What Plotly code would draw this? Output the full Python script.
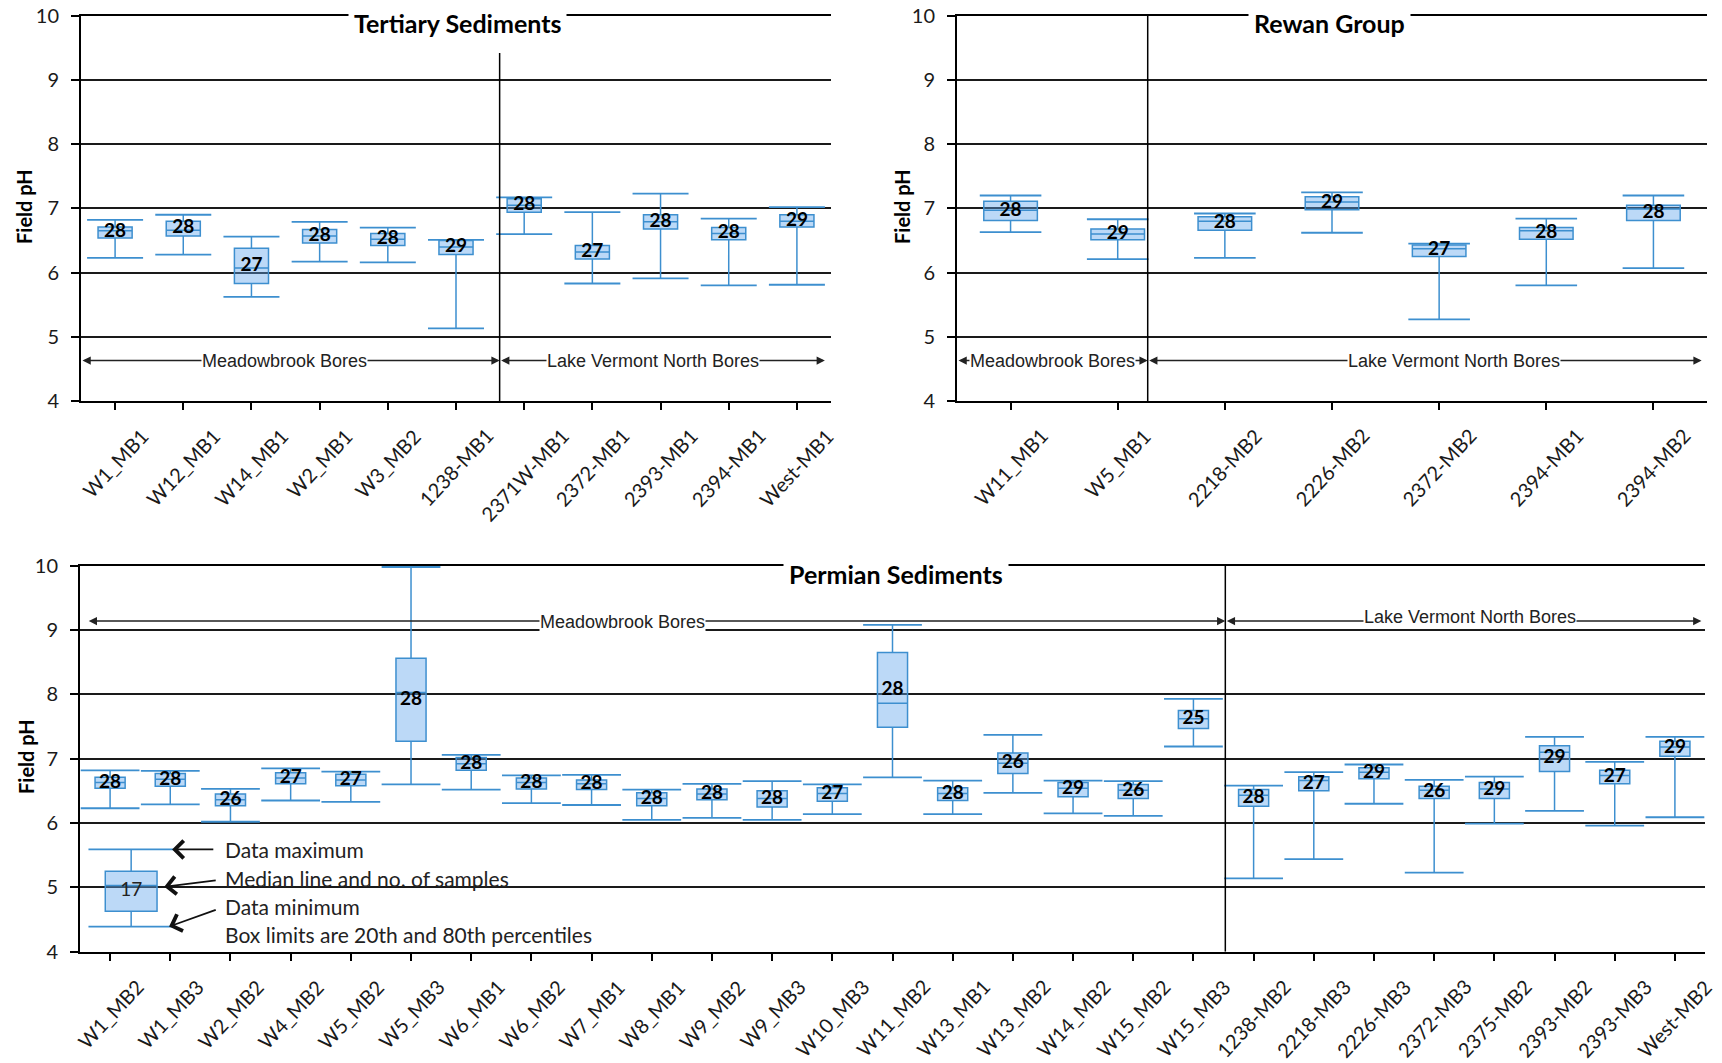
import plotly.graph_objects as go

# ---------------- data ----------------
tert_names = ["W1_MB1", "W12_MB1", "W14_MB1", "W2_MB1", "W3_MB2", "1238-MB1",
              "2371W-MB1", "2372-MB1", "2393-MB1", "2394-MB1", "West-MB1"]
tert_min = [6.23, 6.28, 5.62, 6.17, 6.16, 5.13, 6.60, 5.83, 5.91, 5.80, 5.81]
tert_q1 = [6.54, 6.57, 5.83, 6.46, 6.42, 6.28, 6.94, 6.21, 6.68, 6.51, 6.71]
tert_med = [6.65, 6.66, 6.07, 6.57, 6.52, 6.40, 7.05, 6.32, 6.79, 6.61, 6.80]
tert_q3 = [6.71, 6.80, 6.38, 6.67, 6.61, 6.50, 7.15, 6.42, 6.90, 6.70, 6.90]
tert_max = [6.82, 6.90, 6.56, 6.79, 6.70, 6.51, 7.17, 6.94, 7.23, 6.84, 7.02]
tert_n = [28, 28, 27, 28, 28, 29, 28, 27, 28, 28, 29]

rewan_names = ["W11_MB1", "W5_MB1", "2218-MB2", "2226-MB2", "2372-MB2", "2394-MB1", "2394-MB2"]
rewan_min = [6.63, 6.21, 6.23, 6.62, 5.27, 5.80, 6.07]
rewan_q1 = [6.81, 6.51, 6.66, 6.98, 6.25, 6.52, 6.81]
rewan_med = [6.97, 6.60, 6.80, 7.10, 6.37, 6.65, 6.99]
rewan_q3 = [7.11, 6.68, 6.87, 7.18, 6.43, 6.70, 7.05]
rewan_max = [7.20, 6.83, 6.92, 7.25, 6.45, 6.84, 7.20]
rewan_n = [28, 29, 28, 29, 27, 28, 28]

perm_names = ["W1_MB2", "W1_MB3", "W2_MB2", "W4_MB2", "W5_MB2", "W5_MB3", "W6_MB1", "W6_MB2",
              "W7_MB1", "W8_MB1", "W9_MB2", "W9_MB3", "W10_MB3", "W11_MB2", "W13_MB1", "W13_MB2",
              "W14_MB2", "W15_MB2", "W15_MB3", "1238-MB2", "2218-MB3", "2226-MB3", "2372-MB3",
              "2375-MB2", "2393-MB2", "2393-MB3", "West-MB2"]
perm_min = [6.23, 6.29, 6.02, 6.35, 6.33, 6.60, 6.52, 6.31, 6.28, 6.05, 6.08, 6.05, 6.14, 6.71,
            6.14, 6.47, 6.15, 6.11, 7.19, 5.14, 5.44, 6.30, 5.23, 5.99, 6.19, 5.96, 6.09]
perm_q1 = [6.54, 6.57, 6.27, 6.61, 6.58, 7.27, 6.82, 6.53, 6.52, 6.27, 6.36, 6.25, 6.34, 7.49,
           6.35, 6.77, 6.41, 6.38, 7.47, 6.26, 6.50, 6.69, 6.38, 6.38, 6.80, 6.61, 7.04]
perm_med = [6.63, 6.68, 6.36, 6.70, 6.67, 8.03, 6.92, 6.63, 6.61, 6.38, 6.45, 6.38, 6.46, 7.86,
            6.46, 6.93, 6.54, 6.51, 7.62, 6.43, 6.66, 6.79, 6.51, 6.53, 7.10, 6.74, 7.18]
perm_q3 = [6.71, 6.77, 6.45, 6.78, 6.76, 8.56, 7.02, 6.70, 6.67, 6.47, 6.53, 6.50, 6.55, 8.65,
           6.55, 7.09, 6.63, 6.60, 7.75, 6.52, 6.72, 6.86, 6.57, 6.63, 7.20, 6.82, 7.27]
perm_max = [6.82, 6.81, 6.53, 6.85, 6.80, 9.98, 7.06, 6.74, 6.75, 6.52, 6.61, 6.65, 6.60, 9.08,
            6.66, 7.37, 6.66, 6.65, 7.93, 6.58, 6.79, 6.91, 6.67, 6.72, 7.34, 6.95, 7.34]
perm_n = [28, 28, 26, 27, 27, 28, 28, 28, 28, 28, 28, 28, 27, 28, 28, 26, 29, 26, 25,
          28, 27, 29, 26, 29, 29, 27, 29]

# legend example box: min, q1, median, q3, max, n
key_stats = [4.39, 4.63, 5.03, 5.25, 5.59]
key_n = 17

y_ticks = [4, 5, 6, 7, 8, 9, 10]

# ---------------- style ----------------
W, H = 1722, 1063
BLUE = "#3d8fcf"
FILL = "rgba(95,165,235,0.42)"
FONT = "Lato"
TXT = "#1a1a1a"

fig = go.Figure()
ann = []


def add_panel(idx, names, mn, q1, med, q3, mx, ns, capw, axis_px):
    xs = list(range(len(names)))
    xa = "x" if idx == 1 else f"x{idx}"
    ya = "y" if idx == 1 else f"y{idx}"
    fig.add_trace(go.Box(
        x=xs, q1=q1, median=med, q3=q3, lowerfence=mn, upperfence=mx,
        width=0.5, whiskerwidth=0, fillcolor=FILL, boxpoints=False,
        line=dict(color=BLUE, width=1.5), xaxis=xa, yaxis=ya, hoverinfo="skip"))
    fig.add_trace(go.Scatter(
        x=xs + xs, y=list(mn) + list(mx), mode="markers",
        marker=dict(symbol="line-ew", size=capw, line=dict(color=BLUE, width=1.8)),
        xaxis=xa, yaxis=ya, hoverinfo="skip"))
    fig.add_trace(go.Scatter(
        x=xs, y=[(a + b) / 2 for a, b in zip(q1, q3)], mode="text",
        text=[f"<b>{n}</b>" for n in ns],
        textfont=dict(family=FONT, size=19, color="black"),
        xaxis=xa, yaxis=ya, hoverinfo="skip"))
    # category labels: rotated, centred under each tick, top-aligned
    for i, name in zip(xs, names):
        ann.append(dict(text=name, xref=xa, yref="paper", x=i, y=1 - (axis_px + 20) / H,
                        xanchor="center", yanchor="top", showarrow=False, textangle=-47,
                        font=dict(family=FONT, size=20, color=TXT)))


add_panel(1, tert_names, tert_min, tert_q1, tert_med, tert_q3, tert_max, tert_n, 40, 401)
add_panel(2, rewan_names, rewan_min, rewan_q1, rewan_med, rewan_q3, rewan_max, rewan_n, 44, 401)
add_panel(3, perm_names, perm_min, perm_q1, perm_med, perm_q3, perm_max, perm_n, 42, 951.7)

# legend example box (in Permian panel)
kx = 0.35
fig.add_trace(go.Box(
    x=[kx], lowerfence=[key_stats[0]], q1=[key_stats[1]], median=[key_stats[2]],
    q3=[key_stats[3]], upperfence=[key_stats[4]], width=0.86, whiskerwidth=0,
    fillcolor=FILL, boxpoints=False, line=dict(color=BLUE, width=1.5),
    xaxis="x3", yaxis="y3", hoverinfo="skip"))
fig.add_trace(go.Scatter(
    x=[kx, kx], y=[key_stats[0], key_stats[4]], mode="markers",
    marker=dict(symbol="line-ew", size=61, line=dict(color=BLUE, width=1.8)),
    xaxis="x3", yaxis="y3", hoverinfo="skip"))
fig.add_trace(go.Scatter(
    x=[kx], y=[(key_stats[1] + key_stats[3]) / 2], mode="text", text=[str(key_n)],
    textfont=dict(family=FONT, size=19, color="#222"), xaxis="x3", yaxis="y3", hoverinfo="skip"))


def px_x(a, b):
    return [a / W, b / W]


def px_y(top, bottom):
    return [1 - bottom / H, 1 - top / H]


axis_common_y = dict(
    range=[4, 10], tickvals=y_ticks, ticks="outside", ticklen=8, tickwidth=1.5,
    tickcolor="black", showline=True, linecolor="black", linewidth=2,
    showgrid=True, gridcolor="#1a1a1a", gridwidth=1.5, zeroline=False, automargin=False,
    tickfont=dict(family=FONT, size=20, color=TXT), ticklabelstandoff=8)


def xax(names, dom, anchor):
    return dict(
        domain=dom, anchor=anchor, range=[-0.5, len(names) - 0.5],
        tickvals=list(range(len(names))), showticklabels=False,
        ticks="outside", ticklen=7, tickwidth=1.5, tickcolor="black",
        showline=True, linecolor="black", linewidth=2, mirror=True,
        showgrid=False, zeroline=False, automargin=False)


fig.update_layout(
    width=W, height=H, margin=dict(l=0, r=0, t=0, b=0, autoexpand=False),
    paper_bgcolor="white", plot_bgcolor="white", showlegend=False,
    xaxis=xax(tert_names, px_x(81, 831), "y"),
    yaxis=dict(domain=px_y(15.7, 401), anchor="x", **axis_common_y),
    xaxis2=xax(rewan_names, px_x(957, 1707), "y2"),
    yaxis2=dict(domain=px_y(15.7, 401), anchor="x2", **axis_common_y),
    xaxis3=xax(perm_names, px_x(80, 1705), "y3"),
    yaxis3=dict(domain=px_y(565.7, 951.7), anchor="x3", **axis_common_y),
)

# dividers between bore groups
shapes = [
    dict(type="line", xref="x", yref="y", x0=5.64, x1=5.64, y0=4, y1=9.42),
    dict(type="line", xref="x2", yref="y2", x0=1.28, x1=1.28, y0=4, y1=10),
    dict(type="line", xref="x3", yref="y3", x0=18.53, x1=18.53, y0=4, y1=10),
]
for s in shapes:
    s["line"] = dict(color="black", width=1.5)
fig.update_layout(shapes=shapes)

# panel titles (white background breaks the top line)
for txt, x, y in [("Tertiary Sediments", 457, 23), ("Rewan Group", 1329, 23),
                  ("Permian Sediments", 896, 574)]:
    ann.append(dict(text=f"<b>{txt}</b>", xref="paper", yref="paper", x=x / W, y=1 - y / H,
                    xanchor="center", yanchor="middle", showarrow=False, bgcolor="white",
                    borderpad=5, font=dict(family=FONT, size=25, color="black")))

# y-axis titles
for x, y in [(24, 207), (902, 207), (26, 757)]:
    ann.append(dict(text="<b>Field pH</b>", xref="paper", yref="paper", x=x / W, y=1 - y / H,
                    xanchor="center", yanchor="middle", showarrow=False, textangle=-90,
                    font=dict(family=FONT, size=20, color="black")))


def group_arrow(xr, yr, x0, x1, y, label, tx, ty):
    ann.append(dict(text="", xref=xr, yref=yr, x=x1, y=y, ax=x0, ay=y, axref=xr, ayref=yr,
                    showarrow=True, arrowhead=2, startarrowhead=2, arrowside="end+start",
                    arrowsize=1.1, startarrowsize=1.1, arrowwidth=1.5, arrowcolor="#222"))
    ann.append(dict(text=label, xref=xr, yref=yr, x=tx, y=ty, showarrow=False,
                    bgcolor="white", borderpad=0, xanchor="center", yanchor="middle",
                    font=dict(family="Liberation Sans", size=18, color="#222")))


group_arrow("x", "y", -0.5, 5.64, 4.63, "Meadowbrook Bores", 2.49, 4.63)
group_arrow("x", "y", 5.64, 10.41, 4.63, "Lake Vermont North Bores", 7.89, 4.63)
group_arrow("x2", "y2", -0.5, 1.28, 4.63, "Meadowbrook Bores", 0.39, 4.63)
group_arrow("x2", "y2", 1.28, 6.45, 4.63, "Lake Vermont North Bores", 4.14, 4.63)
group_arrow("x3", "y3", -0.38, 18.53, 9.14, "Meadowbrook Bores", 8.52, 9.12)
group_arrow("x3", "y3", 18.53, 26.44, 9.14, "Lake Vermont North Bores", 22.59, 9.21)

# key text and arrows
key_lines = [("Data maximum", 5.59), ("Median line and no. of samples", 5.14),
             ("Data minimum", 4.71), ("Box limits are 20th and 80th percentiles", 4.26)]
for t, y in key_lines:
    ann.append(dict(text=t, xref="x3", yref="y3", x=1.875, y=y, xanchor="left",
                    yanchor="middle", showarrow=False,
                    font=dict(family=FONT, size=21, color="#222")))
for (tx, ty, hx, hy) in [(1.74, 5.59, 1.03, 5.59), (1.78, 5.11, 0.90, 5.01),
                         (1.78, 4.66, 0.98, 4.39)]:
    ann.append(dict(text="", xref="x3", yref="y3", x=hx, y=hy, ax=tx, ay=ty,
                    axref="x3", ayref="y3", showarrow=True, arrowhead=4,
                    arrowsize=1.9, arrowwidth=1.8, arrowcolor="#111"))

fig.update_layout(annotations=ann)
fig.write_html("out.html", config={"displayModeBar": False},
               post_script="document.body.style.margin='0px';")
